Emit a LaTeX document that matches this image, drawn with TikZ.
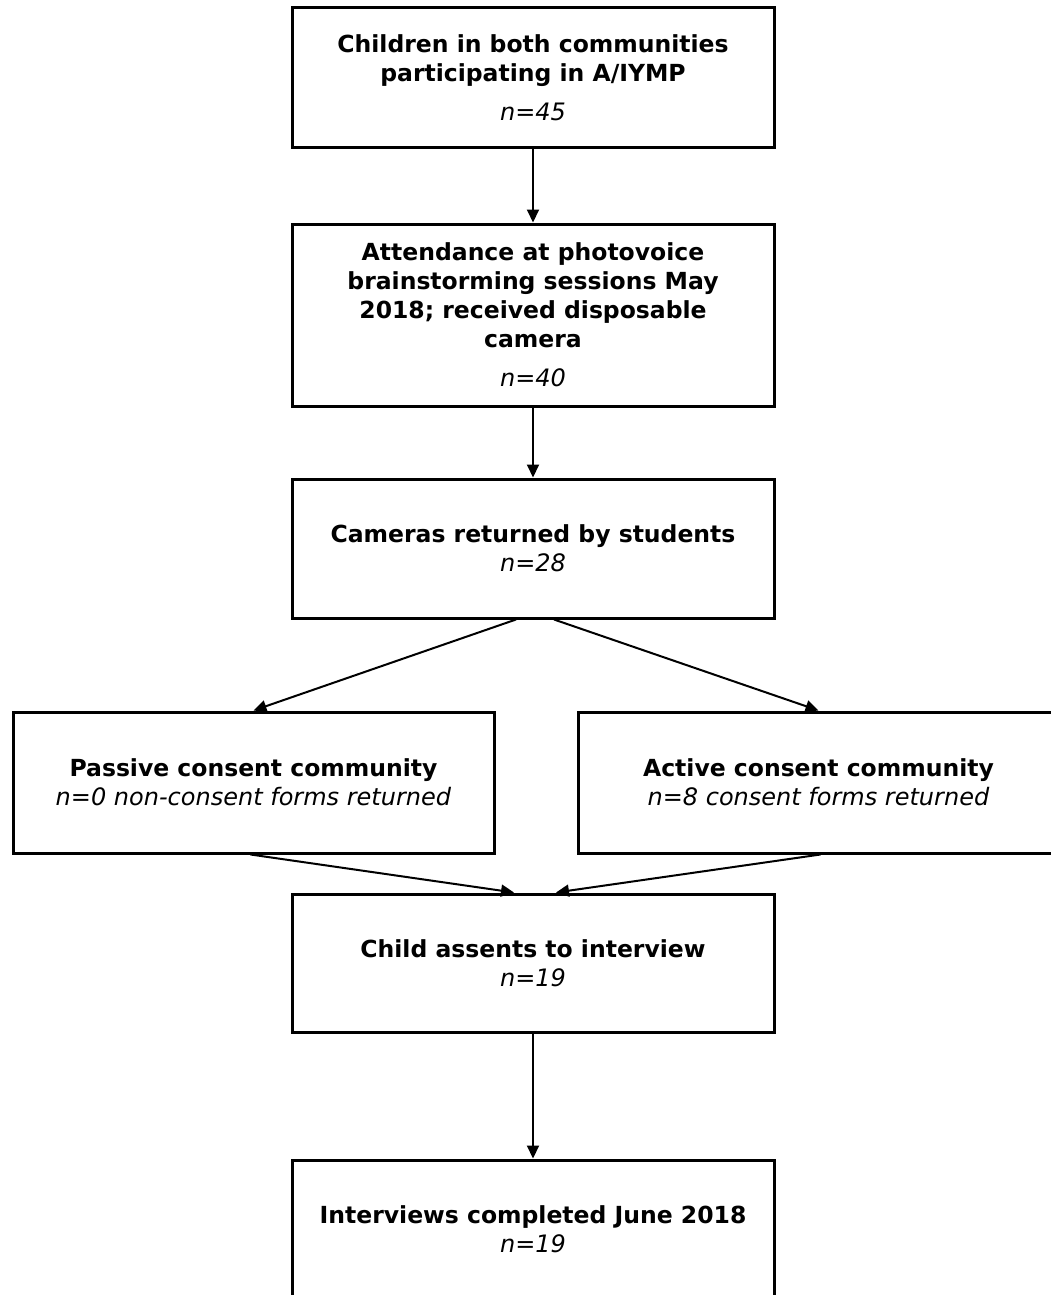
\documentclass[tikz,border=0pt]{standalone}
\usepackage{fontspec}
\setmainfont{DejaVu Sans}
\usetikzlibrary{arrows.meta,calc}
\newcommand{\ttl}[1]{{\fontsize{23.5pt}{29pt}\selectfont\bfseries #1}}
\tikzset{
  box/.style={draw, line width=3pt, minimum width=482pt, inner sep=0pt, align=center,
    font=\fontsize{24pt}{29pt}\selectfont},
  arr/.style={line width=2pt, -{Triangle[length=13pt,width=12pt]}}
}
\begin{document}
\begin{tikzpicture}[x=1pt,y=-1pt]
\useasboundingbox (0,0) rectangle (1050,1295);
\node[box, minimum height=139pt] (b1) at (533,77.5)
  {\ttl{Children in both communities}\\\ttl{participating in A/IYMP}\\[10pt]\textit{n=45}};
\node[box, minimum height=182pt] (b2) at (533,315)
  {\ttl{Attendance at photovoice}\\\ttl{brainstorming sessions May}\\\ttl{2018; received disposable}\\\ttl{camera}\\[10pt]\textit{n=40}};
\node[box, minimum height=139pt] (b3) at (533,548.5)
  {\ttl{Cameras returned by students}\\\textit{n=28}};
\node[box, minimum width=481pt, minimum height=141pt] (b4) at (253.5,782.5)
  {\ttl{Passive consent community}\\\textit{n=0 non-consent forms returned}};
\node[box, minimum width=481pt, minimum height=141pt] (b5) at (818.5,782.5)
  {\ttl{Active consent community}\\\textit{n=8 consent forms returned}};
\node[box, minimum height=138pt] (b6) at (533,963)
  {\ttl{Child assents to interview}\\\textit{n=19}};
\node[box, minimum height=139pt] (b7) at (533,1229.5)
  {\ttl{Interviews completed June 2018}\\\textit{n=19}};
\draw[arr] (b1.south) -- (b2.north);
\draw[arr] (b2.south) -- (b3.north);
\draw[arr] ($(b3.south)+(-17,0)$) -- (b4.north);
\draw[arr] ($(b3.south)+(21,0)$) -- (b5.north);
\draw[arr] ($(b4.south)+(-3,0)$) -- ($(b6.north)+(-19,0)$);
\draw[arr] ($(b5.south)+(2,0)$) -- ($(b6.north)+(23,0)$);
\draw[arr] (b6.south) -- (b7.north);
\end{tikzpicture}
\end{document}
